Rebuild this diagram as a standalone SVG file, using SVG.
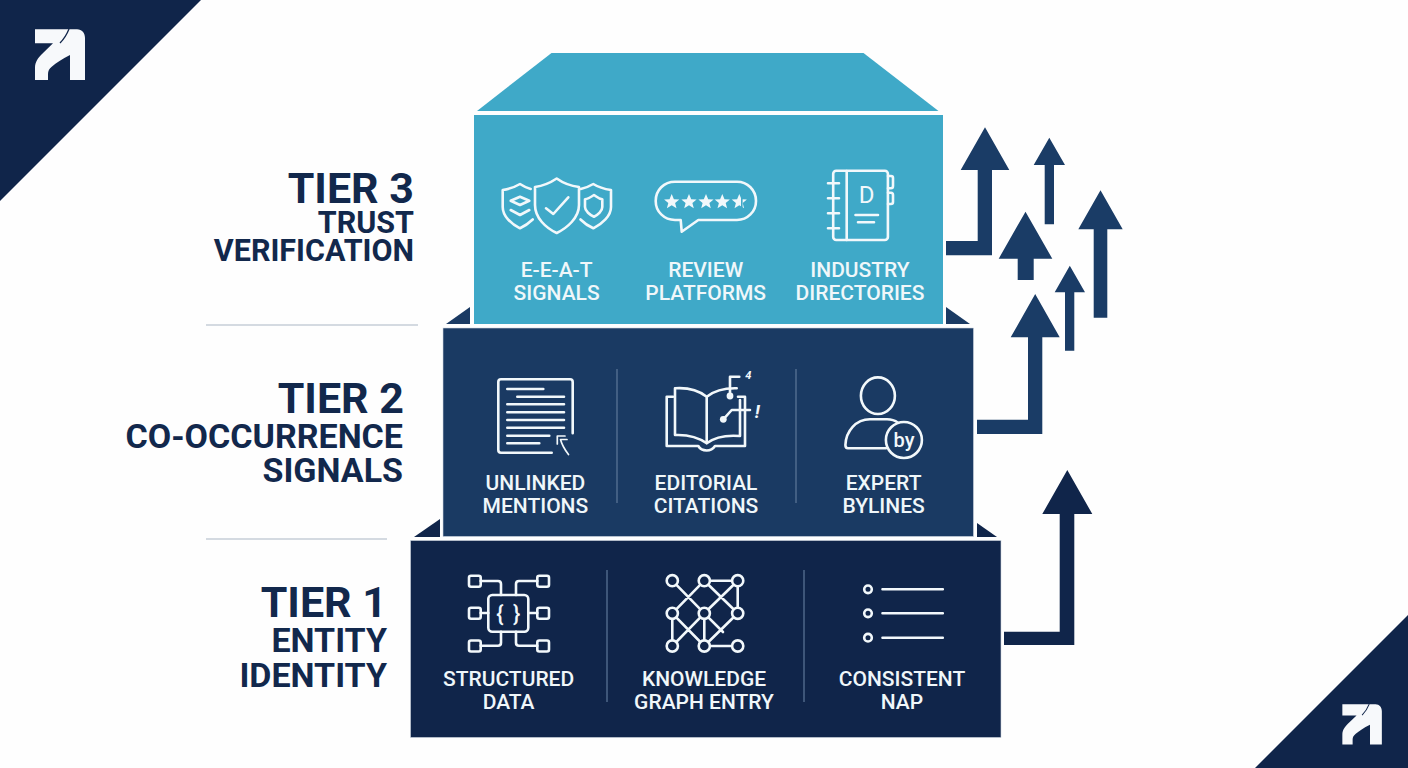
<svg xmlns="http://www.w3.org/2000/svg" width="1408" height="768" viewBox="0 0 1408 768">
<style>
.tt{font-family:Roboto,"Liberation Sans",sans-serif;font-weight:700;fill:#12284c;text-anchor:end}
.h{font-size:43px}
.s3{font-size:30.5px}
.s{font-size:34px}
.l{font-family:Roboto,"Liberation Sans",sans-serif;font-weight:500;font-size:21px;fill:#f0f7fa;text-anchor:middle}
.i{fill:none;stroke:#f2f8fb;stroke-width:2.6;stroke-linecap:round;stroke-linejoin:round}
.f{fill:#f2f8fb}
.g{font-family:Roboto,"Liberation Sans",sans-serif;fill:#f2f8fb;text-anchor:middle}
.dk{fill:#10254a}.md{fill:#1a3a63}.lt{fill:#3fa9c8}
.div{stroke:#5e7899;stroke-width:1.2}
.rule{stroke:#a9b6c4;stroke-width:1.2}
.ar{fill:#1a3c66}
</style>
<defs>
<g id="logo">
<path fill="#f7f9fb" d="M35 29.3H77C82 29.3 85 33 85 38V80H70V55C62 59 56 63 52 66.5C49 69 48 71 48 74V80H35V68C35 62 38 58 42 54L53 43.3H35Z"/>
<path fill="none" stroke="#10254a" stroke-width="1.3" d="M69 29C67 34 65 38 60 43"/>
</g>
<polygon id="star" points="0,-7.6 2.2,-2.5 7.6,-2.2 3.4,1.3 4.8,6.5 0,3.6 -4.8,6.5 -3.4,1.3 -7.6,-2.2 -2.2,-2.5"/>
</defs>
<rect width="1408" height="768" fill="#fefefe"/>
<g id="corner-top-left"><polygon class="dk" points="0,0 201,0 0,201"/><use href="#logo"/></g>
<g id="corner-bottom-right"><polygon class="dk" points="1408,615 1408,768 1255,768"/><use href="#logo" transform="translate(1314.7 681.2) scale(.79)"/></g>

<g id="tier3-label">
<text class="tt h" x="414" y="203">TIER 3</text>
<text class="tt s3" x="414" y="233">TRUST</text>
<text class="tt s3" x="414" y="261">VERIFICATION</text>
</g>
<g id="tier2-label">
<text class="tt h" x="404" y="413">TIER 2</text>
<text class="tt s" x="403" y="448">CO-OCCURRENCE</text>
<text class="tt s" x="403" y="482">SIGNALS</text>
</g>
<g id="tier1-label">
<text class="tt h" x="387" y="617">TIER 1</text>
<text class="tt s" x="387" y="652">ENTITY</text>
<text class="tt s" x="387" y="687">IDENTITY</text>
</g>
<g id="rules">
<line class="rule" x1="206" y1="325" x2="418" y2="325"/>
<line class="rule" x1="206" y1="539" x2="387" y2="539"/>
</g>

<g id="tier1">
<polygon class="dk" points="414,537 440,519 440,537"/>
<polygon class="dk" points="977,523 997,537 977,537"/>
<rect class="dk" x="410.5" y="540.5" width="590.5" height="197" stroke="#cfd8e2" stroke-width=".6"/>
<line class="div" x1="607" y1="570" x2="607" y2="702"/>
<line class="div" x1="804" y1="570" x2="804" y2="702"/>
</g>
<g id="tier2">
<polygon class="md" points="446,324 470,307 470,324"/>
<polygon class="md" points="946,307 970,324 946,324"/>
<rect class="md" x="443" y="328" width="530.5" height="208.5" stroke="#cfd8e2" stroke-width=".6"/>
<line class="div" x1="617" y1="369" x2="617" y2="503"/>
<line class="div" x1="796" y1="369" x2="796" y2="503"/>
</g>
<g id="tier3">
<polygon class="lt" points="477,111 551.5,53 863.5,53 938.5,111"/>
<rect class="lt" x="474" y="115" width="469" height="209"/>
</g>

<g id="eeat">
<path class="i" d="M556.7 178.5C550 183 542 186 535 187V205C535 218 546 228 556.7 233C567 228 579 218 579 205V187C571 186 563 183 556.7 178.5Z"/>
<path class="i" d="M530.7 189C527 188 523 186 520 184C515 187 509 189 502.7 190V207C502.7 216 511 224 520 228.3C525 226 529 223 532.7 219.5"/>
<path class="i" d="M510.7 200.7L520 196.7L529.3 200.7L520 205ZM510.7 210L520 215L529.3 210"/>
<path class="i" d="M580.7 189C585 188 590 186 593.3 184C598 187 604 189 611 190V207C611 216 602 224 593.3 228.3C588 226 584 223 580.5 219.5"/>
<path class="i" d="M594 195C591 197 588 199 585 199.3V207C585 211 590 215 594 216.7C598 215 602.3 211 602.3 207V199.3C599 199 597 197 594 195Z"/>
<path class="i" d="M546 208.3L553.3 214L568.3 197.3"/>
<text class="l" x="556.6" y="276.5">E-E-A-T</text>
<text class="l" x="556.6" y="300">SIGNALS</text>
</g>
<g id="review">
<path class="i" d="M675 181.7H737C747.5 181.7 756 190 756 200.9C756 211.5 747.5 220 737 220H698.3L681.7 231.7L680.7 220H675C664 220 655.7 211.5 655.7 200.9C655.7 190 664 181.7 675 181.7Z"/>
<use href="#star" class="f" x="671.7" y="201.7"/>
<use href="#star" class="f" x="689" y="201.7"/>
<use href="#star" class="f" x="706" y="201.7"/>
<use href="#star" class="f" x="722.3" y="201.7"/>
<use href="#star" class="f" x="739.3" y="201.7"/>
<rect class="lt" x="741" y="197" width="1.6" height="11"/>
<text class="l" x="705.7" y="276.5">REVIEW</text>
<text class="l" x="705.7" y="300">PLATFORMS</text>
</g>
<g id="directories">
<rect class="i" x="833.2" y="170.7" width="54.7" height="69.3" rx="3"/>
<path class="i" d="M846.7 171V240M828 183.3H839M828 198.3H839M828 213.3H839M828 228.3H839M855.5 215H878M858 222.3H874"/>
<path class="i" d="M888 176H891C892.5 176 893 177 893 178V186C893 187.5 892.5 188.3 891 188.3H888M888 192.7H891C892.5 192.7 893 193.5 893 195V202C893 203.5 892.5 204 891 204H888"/>
<text class="g" x="866.6" y="203" font-size="24">D</text>
<text class="l" x="860" y="276.5">INDUSTRY</text>
<text class="l" x="860" y="300">DIRECTORIES</text>
</g>

<g id="mentions">
<path class="i" d="M551.7 452.7H501C499 452.7 498.3 451.5 498.3 450V382C498.3 380 499.3 379.3 501 379.3H570C572 379.3 572.7 380.5 572.7 382V433.3"/>
<path class="i" d="M507.3 389H543.3M517.3 396.7H564M507.3 404.3H564M507.3 412.3H564M507.3 420H564M507.3 427.7H564M507.3 435.7H549.3M507.3 443.3H539.3"/>
<path class="i" style="stroke-width:1.7" d="M557.3 444V436H565M567 439.5H560.5C562 445 565 450 568.5 454.5"/>
<text class="l" x="535.4" y="490">UNLINKED</text>
<text class="l" x="535.4" y="513">MENTIONS</text>
</g>
<g id="citations">
<path class="i" d="M706.7 396.7C698 390 686 387.5 675 388.3V435C686 434.5 698 437 706.7 443.3ZM706.7 396.7C714 391 725 388 736.7 388.3M706.7 443.3C715 437 728 435 740 436V400"/>
<path class="i" d="M673 396.7H666.7V446H698.3C700 449 703 450.5 706.7 450.5C710 450.5 713 449 715 446H745V396.7H738"/>
<path class="i" d="M730 396V376.7H739.3M723.3 419.3L731.7 410H750"/>
<circle class="f" cx="730" cy="396" r="3.4"/>
<circle class="f" cx="723.3" cy="419.3" r="3.4"/>
<text class="g" x="748.3" y="379" font-size="11" font-weight="700" font-style="italic">4</text>
<text class="g" x="757.3" y="418" font-size="19" font-weight="700" font-style="italic">!</text>
<text class="l" x="706" y="490">EDITORIAL</text>
<text class="l" x="706" y="513">CITATIONS</text>
</g>
<g id="bylines">
<ellipse class="i" cx="877.9" cy="395.7" rx="17" ry="18.3"/>
<path class="i" d="M886 448.3H848C846 448.3 845.4 447 845.4 445C846 431 856 419.3 870 419.3H887C891 419.3 895 420.5 898 422.7"/>
<circle class="i" cx="903.9" cy="440" r="18"/>
<text class="g" x="904" y="447" font-size="20" font-weight="500">by</text>
<text class="l" x="883.6" y="490">EXPERT</text>
<text class="l" x="883.6" y="513">BYLINES</text>
</g>

<g id="structured">
<rect class="i" x="488.3" y="595" width="40" height="36.7" rx="4"/>
<rect class="i" x="469" y="575.7" width="11.7" height="11" rx="2"/>
<rect class="i" x="537.3" y="575.7" width="11.7" height="11" rx="2"/>
<rect class="i" x="469" y="607.7" width="11.7" height="11" rx="2"/>
<rect class="i" x="537.3" y="607.7" width="11.7" height="11" rx="2"/>
<rect class="i" x="469" y="640.5" width="11.7" height="11" rx="2"/>
<rect class="i" x="537.3" y="640.5" width="11.7" height="11" rx="2"/>
<path class="i" d="M480.7 581H498C500 581 501 582 501 584V595M537.3 581H519C517 581 516 582 516 584V595M480.7 613H488.3M528.3 613H537.3M480.7 645.7H498C500 645.7 501 644.7 501 642.7V631.7M537.3 645.7H519C517 645.7 516 644.7 516 642.7V631.7"/>
<text class="g" x="508.3" y="620.5" font-size="22" font-weight="500" word-spacing="4">{ }</text>
<text class="l" x="508.6" y="685.5">STRUCTURED</text>
<text class="l" x="508.6" y="709">DATA</text>
</g>
<g id="knowledge">
<path class="i" d="M704.3 580.7H737.7M704.3 580.7L672.3 613.3M672.3 580.7L704.3 613.3M704.3 580.7L737.7 613.3M737.7 580.7L704.3 613.3M737.7 580.7V613.3M672.3 613.3V646M672.3 613.3L704.3 646M704.3 613.3L672.3 646M704.3 613.3V646M704.3 613.3L723 632M704.3 646L737.7 613.3M704.3 646H737.7"/>
<g fill="#10254a" stroke="#f2f8fb" stroke-width="2.6">
<circle cx="672.3" cy="580.7" r="5.6"/><circle cx="704.3" cy="580.7" r="5.6"/><circle cx="737.7" cy="580.7" r="5.6"/>
<circle cx="672.3" cy="613.3" r="5.6"/><circle cx="704.3" cy="613.3" r="5.6"/><circle cx="737.7" cy="613.3" r="5.6"/>
<circle cx="672.3" cy="646" r="5.6"/><circle cx="704.3" cy="646" r="5.6"/><circle cx="737.7" cy="646" r="5.6"/>
</g>
<text class="l" x="704" y="685.5">KNOWLEDGE</text>
<text class="l" x="704" y="709">GRAPH ENTRY</text>
</g>
<g id="nap">
<circle class="i" cx="868" cy="589.3" r="3.8"/><circle class="i" cx="868" cy="613.3" r="3.8"/><circle class="i" cx="868" cy="637.7" r="3.8"/>
<path class="i" d="M882.5 589.3H942.8M882.5 613.3H942.8M882.5 637.7H942.8"/>
<text class="l" x="902" y="685.5">CONSISTENT</text>
<text class="l" x="902" y="709">NAP</text>
</g>

<g id="connectors">
<path class="ar" d="M946 241H977.7V170H960.7L985 127.3L1009.3 170H992V255.3H946Z"/>
<path class="ar" d="M1044.7 224.3V165H1033.7L1049.3 137.7L1065 165H1054V224.3Z"/>
<path class="ar" d="M1017.7 280V258.7H998.7L1025.5 211.7L1052.3 258.7H1033.7V280Z"/>
<path class="ar" d="M1093.7 317.7V229.3H1078.3L1100.5 190.3L1122.7 229.3H1107.3V317.7Z"/>
<path class="ar" d="M1065 350.7V292.3H1054.7L1069.8 265.7L1085 292.3H1074.3V350.7Z"/>
<path class="ar" d="M977 419.7H1028V337.3H1010.7L1035.2 294L1059.7 337.3H1042.3V434H977Z"/>
<path fill="#10254a" d="M1004 631.7H1059.7V514H1042.3L1067.3 470L1092.3 514H1074.3V645H1004Z"/>
</g>
</svg>
